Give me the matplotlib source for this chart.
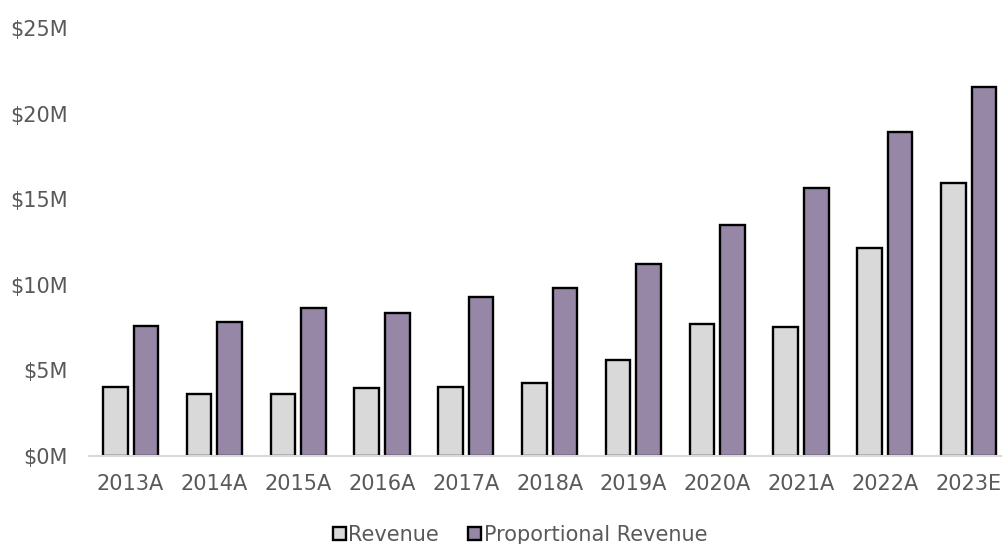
import matplotlib
matplotlib.use("Agg")
import matplotlib.pyplot as plt
import numpy as np
from matplotlib.patches import Patch
from matplotlib.ticker import FuncFormatter

years = ["2013A", "2014A", "2015A", "2016A", "2017A", "2018A",
         "2019A", "2020A", "2021A", "2022A", "2023E"]
revenue = [4.05, 3.60, 3.62, 3.95, 4.05, 4.25, 5.63, 7.69, 7.52, 12.15, 15.95]
proportional_revenue = [7.61, 7.83, 8.66, 8.37, 9.27, 9.79, 11.20, 13.51, 15.64, 18.93, 21.57]
y_ticks = [0, 5, 10, 15, 20, 25]

GRAY = "#d9d9d9"
PURPLE = "#9787a7"
TEXT = "#595959"
FS = 15

fig = plt.figure(figsize=(10.02, 5.44), dpi=100)
W, H = 1002, 544
left, right = 88.7, 88.7 + 11 * 83.8
bottom, top = 456, 28
ax = fig.add_axes([left / W, 1 - bottom / H, (right - left) / W, (bottom - top) / H])

x = np.arange(len(years))
bw = 0.295
off = (bw + 0.07) / 2
kw = dict(edgecolor="black", linewidth=1.7, zorder=3)
ax.bar(x - off, revenue, bw, color=GRAY, **kw)
ax.bar(x + off, proportional_revenue, bw, color=PURPLE, **kw)

ax.set_xlim(-0.5, len(years) - 0.5)
ax.set_ylim(0, 25)
ax.set_yticks(y_ticks)
ax.yaxis.set_major_formatter(FuncFormatter(lambda v, p: f"${v:.0f}M"))
ax.set_xticks(x)
ax.set_xticklabels(years)

for s in ["top", "right", "left"]:
    ax.spines[s].set_visible(False)
ax.spines["bottom"].set_color(GRAY)
ax.spines["bottom"].set_linewidth(1.5)
ax.spines["bottom"].set_zorder(4)

ax.tick_params(axis="y", length=0, pad=15, labelsize=FS, labelcolor=TEXT)
ax.tick_params(axis="x", length=0, pad=13, labelsize=FS, labelcolor=TEXT)

handles = [Patch(facecolor=GRAY, edgecolor="black", linewidth=1.7, label="Revenue"),
           Patch(facecolor=PURPLE, edgecolor="black", linewidth=1.7, label="Proportional Revenue")]
fig.legend(handles=handles, loc="center", bbox_to_anchor=(0.519, 1 - 535 / H),
           ncol=2, frameon=False, fontsize=FS, labelcolor=TEXT,
           handlelength=0.62, handleheight=0.62, handletextpad=0.12,
           columnspacing=1.4, borderpad=0)

fig.savefig("out.png", dpi=100)
